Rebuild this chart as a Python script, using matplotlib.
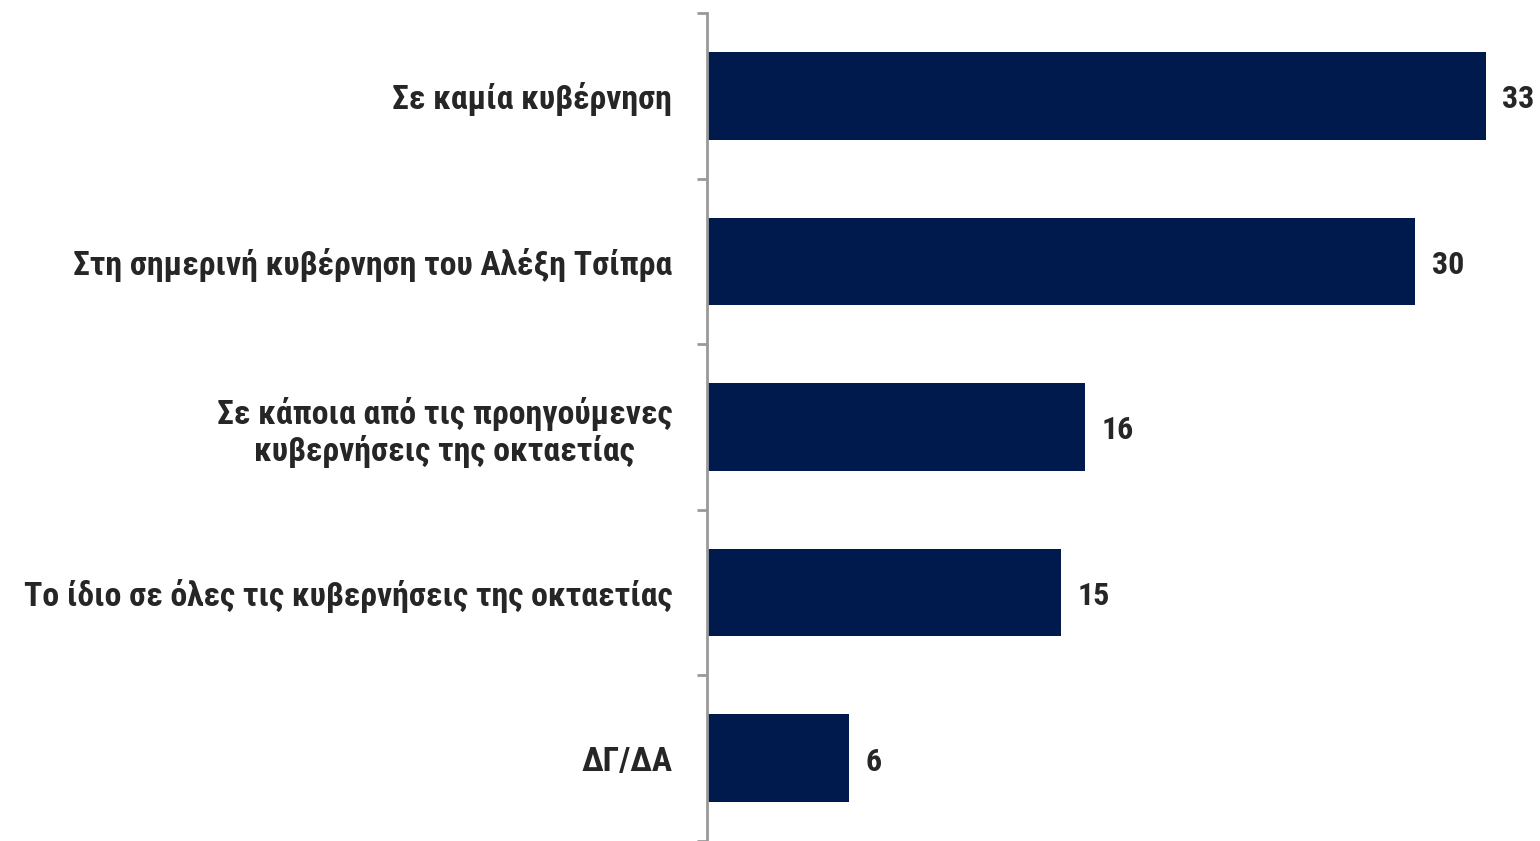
import matplotlib
matplotlib.use("Agg")
import matplotlib.pyplot as plt
from matplotlib import font_manager

categories = [
    "Σε καμία κυβέρνηση",
    "Στη σημερινή κυβέρνηση του Αλέξη Τσίπρα",
    "Σε κάποια από τις προηγούμενες\nκυβερνήσεις της οκταετίας",
    "Το ίδιο σε όλες τις κυβερνήσεις της οκταετίας",
    "ΔΓ/ΔΑ",
]
values = [33, 30, 16, 15, 6]

names = {f.name for f in font_manager.fontManager.ttflist}
fam = [n for n in ["Liberation Sans Narrow", "Roboto Condensed", "Liberation Sans", "DejaVu Sans"] if n in names]
plt.rcParams["font.family"] = fam

bar_color = "#001A4E"
text_color = "#262626"
axis_color = "#999999"

fig = plt.figure(figsize=(15.4, 8.41), dpi=100)
ax = fig.add_axes([707/1540, 0.0, 1 - 707/1540, 1 - 13/841])

y = list(range(len(categories)))
ax.barh(y, values, height=0.53, color=bar_color, zorder=2)
ax.set_ylim(len(categories) - 0.5, -0.5)
ax.set_xlim(0, 833/23.6)

for yi, v in zip(y, values):
    ax.annotate(str(v), (v, yi), xytext=(12, -2.5), textcoords="offset points",
                va="center", ha="left", fontsize=23, fontweight="bold", color=text_color)

ax.set_yticks(y)
ax.set_yticklabels(categories, fontsize=24.3, fontweight="bold", color=text_color, linespacing=1.15)
ax.set_yticks([i - 0.5 for i in range(len(categories) + 1)], minor=True)
ax.tick_params(axis="y", which="major", length=0, pad=25)
ax.tick_params(axis="y", which="minor", length=7.5, width=2, color=axis_color, direction="out")
for lab in ax.get_yticklabels():
    lab.set_horizontalalignment("right")
    lab.set_multialignment("center")

ax.set_xticks([])
for s in ["top", "right", "bottom"]:
    ax.spines[s].set_visible(False)
ax.spines["left"].set_color(axis_color)
ax.spines["left"].set_linewidth(2)

fig.savefig("out.png", dpi=100)
